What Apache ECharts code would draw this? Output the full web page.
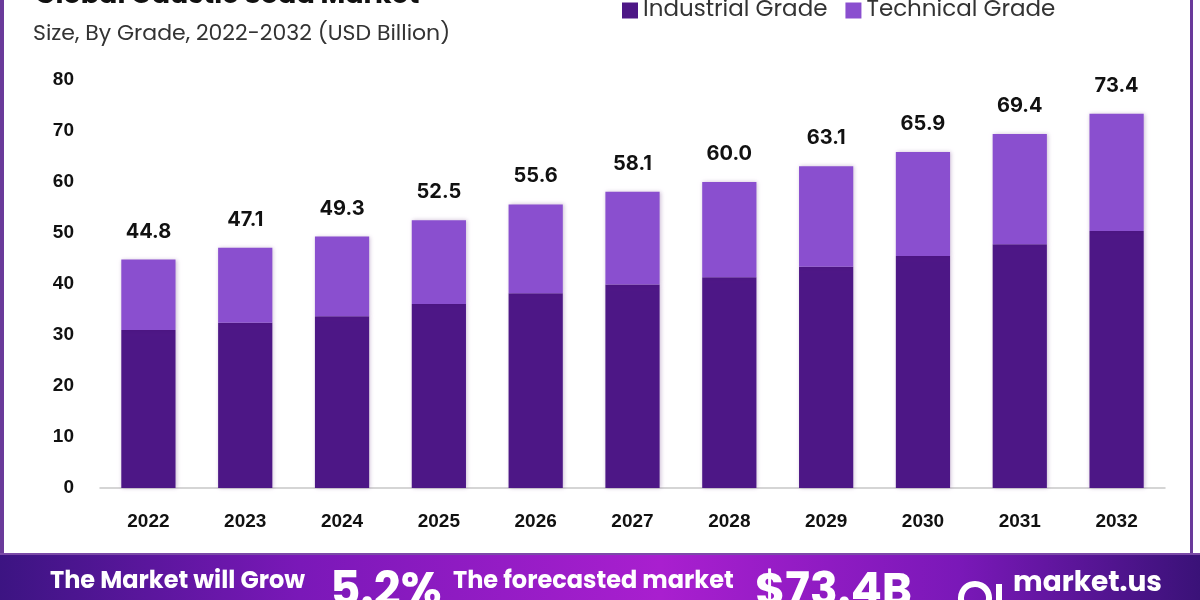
<!DOCTYPE html>
<html>
<head>
<meta charset="utf-8">
<script src="https://cdn.jsdelivr.net/npm/echarts@6/dist/echarts.min.js"></script>
<style>html,body{margin:0;padding:0;background:#fff}#c{width:1200px;height:600px}</style>
</head>
<body>
<div id="c"></div>
<script>
var categories = ['2022','2023','2024','2025','2026','2027','2028','2029','2030','2031','2032'];
var totals = [44.8, 47.1, 49.3, 52.5, 55.6, 58.1, 60.0, 63.1, 65.9, 69.4, 73.4];
var industrial = [31.0, 32.4, 33.7, 36.1, 38.2, 39.9, 41.3, 43.4, 45.5, 47.8, 50.4];
var technical = [13.8, 14.7, 15.6, 16.4, 17.4, 18.2, 18.7, 19.7, 20.4, 21.6, 23.0];
var yTicks = [0, 10, 20, 30, 40, 50, 60, 70, 80];

var chart = echarts.init(document.getElementById('c'));
var shadow = {shadowBlur: 4, shadowColor: 'rgba(60,0,90,0.25)', shadowOffsetX: 1, shadowOffsetY: 0};
var ff = 'Poppins, "Open Sans", sans-serif';
chart.setOption({
  animation: false,
  backgroundColor: '#ffffff',
  legend: {
    top: -6, left: 617,
    itemWidth: 16, itemHeight: 16, itemGap: 18,
    icon: 'rect',
    textStyle: {fontFamily: ff, fontSize: 23, color: '#333'},
    data: ['Industrial Grade', 'Technical Grade']
  },
  grid: {left: 100, right: 35, top: 80, bottom: 112},
  xAxis: {
    type: 'category', data: categories,
    axisLine: {lineStyle: {color: '#c8c8c8', width: 1.5}},
    axisTick: {show: false},
    axisLabel: {margin: 24, fontFamily: '"Liberation Sans Narrow", "Liberation Sans", sans-serif', fontWeight: 'bold', fontSize: 19, color: '#111'}
  },
  yAxis: {
    type: 'value', min: yTicks[0], max: yTicks[yTicks.length-1], interval: 10,
    axisLine: {show: false}, axisTick: {show: false},
    splitLine: {show: false},
    axisLabel: {margin: 26, fontFamily: '"Liberation Sans", sans-serif', fontWeight: 'bold', fontSize: 19, color: '#111'}
  },
  series: [
    {name: 'Industrial Grade', type: 'bar', stack: 'g', data: industrial, barWidth: '56%',
     itemStyle: Object.assign({color: '#4d1786'}, shadow)},
    {name: 'Technical Grade', type: 'bar', stack: 'g', data: technical, barWidth: '56%',
     itemStyle: Object.assign({color: '#8a4fcf'}, shadow),
     label: {show: true, position: 'top', distance: 18,
       formatter: function(p){ return totals[p.dataIndex].toFixed(1); },
       fontFamily: 'Inter, "DejaVu Sans", sans-serif', fontWeight: 'bold', fontSize: 20, color: '#111'}}
  ],
  graphic: [
    {type: 'rect', left: 0, top: 0, shape: {width: 4, height: 555}, style: {fill: '#6a3a9a'}},
    {type: 'rect', left: 1190, top: 0, shape: {width: 3, height: 555}, style: {fill: '#6a3a9a'}},
    {type: 'rect', left: 0, top: 553, shape: {width: 1200, height: 2}, style: {fill: '#7b4aa8'}},
    {type: 'text', left: 35, top: -17, style: {text: 'Global Caustic Soda Market', fontFamily: ff, fontWeight: 'bold', fontSize: 27, fill: '#111'}},
    {type: 'text', left: 33, top: 23, style: {text: 'Size, By Grade, 2022-2032 (USD Billion)', fontFamily: ff, fontSize: 22, fill: '#333'}},
    {type: 'rect', left: 0, top: 555, shape: {width: 1200, height: 45},
     style: {fill: new echarts.graphic.LinearGradient(0, 0, 1, 0, [
       {offset: 0, color: '#3c1482'}, {offset: 0.25, color: '#7a18b8'}, {offset: 0.55, color: '#a91fcf'},
       {offset: 0.8, color: '#7a18b8'}, {offset: 1, color: '#3a1278'}])}},
    {type: 'text', left: 50, top: 570, style: {text: 'The Market will Grow', fontFamily: ff, fontWeight: 'bold', fontSize: 24, fill: '#fff'}},
    {type: 'text', left: 330, top: 570, style: {text: '5.2%', fontFamily: ff, fontWeight: 'bold', fontSize: 47, fill: '#fff'}},
    {type: 'text', left: 453, top: 570, style: {text: 'The forecasted market', fontFamily: ff, fontWeight: 'bold', fontSize: 24, fill: '#fff'}},
    {type: 'text', left: 755, top: 570, style: {text: '$73.4B', fontFamily: ff, fontWeight: 'bold', fontSize: 46, fill: '#fff'}},
    {type: 'arc', shape: {cx: 975, cy: 598, r: 14, startAngle: Math.PI * 0.9, endAngle: Math.PI * 2.1}, style: {stroke: '#fff', lineWidth: 6, fill: null}},
    {type: 'rect', shape: {x: 996, y: 584, width: 6, height: 16}, style: {fill: '#fff'}},
    {type: 'text', left: 1013, top: 570, style: {text: 'market.us', fontFamily: ff, fontWeight: 'bold', fontSize: 28, fill: '#fff'}}
  ]
});
</script>
</body>
</html>
